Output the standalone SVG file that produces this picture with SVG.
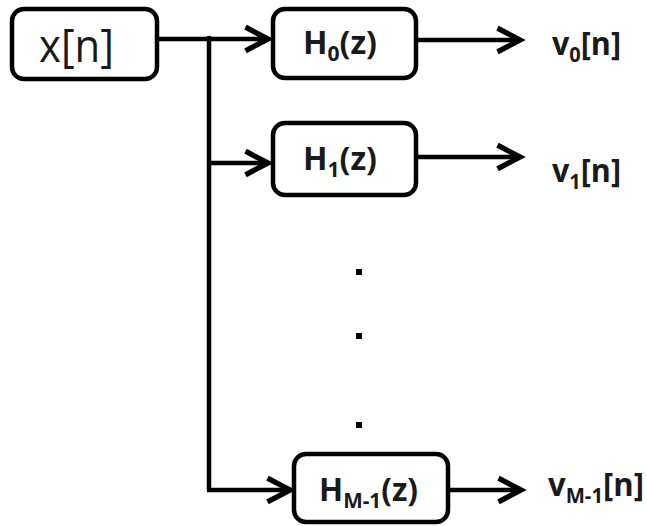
<svg xmlns="http://www.w3.org/2000/svg" width="647" height="526" viewBox="0 0 647 526">
<style>
.box{fill:#fff;stroke:#000;stroke-width:4.5}
.wire{fill:none;stroke:#000;stroke-width:4.5}
.lbl{font-family:"Open Sans","Liberation Sans",sans-serif;font-weight:700;font-size:32px;fill:#1a1a1a}
.sub{font-size:21px}
.in{font-family:"Open Sans","Liberation Sans",sans-serif;font-size:46px;fill:#1a1a1a}
</style>
<defs>
<marker id="arr" markerUnits="userSpaceOnUse" markerWidth="30" markerHeight="30" viewBox="-24 -14 28 28" refX="0" refY="0" orient="auto" overflow="visible">
<path d="M-21,-11 L0,0 L-21,11" fill="none" stroke="#000" stroke-width="5" stroke-linejoin="miter"/>
</marker>
</defs>
<rect width="647" height="526" fill="#fff"/>
<g id="connectors">
<path class="wire" d="M157,39 H268" marker-end="url(#arr)"/>
<path class="wire" d="M209,36 V490"/>
<path class="wire" d="M209,163 H268" marker-end="url(#arr)"/>
<path class="wire" d="M207,490 H290" marker-end="url(#arr)"/>
<path class="wire" d="M416,40 H520" marker-end="url(#arr)"/>
<path class="wire" d="M416,157 H520" marker-end="url(#arr)"/>
<path class="wire" d="M448,490 H521" marker-end="url(#arr)"/>
</g>
<g id="x_n">
<rect class="box" x="12" y="9" width="145" height="70" rx="12"/>
<text class="in" x="39" y="62" textLength="75" lengthAdjust="spacingAndGlyphs">x[n]</text>
</g>
<g id="H0">
<rect class="box" x="273" y="9" width="143" height="69" rx="12"/>
<text class="lbl" x="303" y="54" textLength="74" lengthAdjust="spacingAndGlyphs">H<tspan class="sub" dy="7">0</tspan><tspan dy="-7">(z)</tspan></text>
</g>
<g id="H1">
<rect class="box" x="273" y="123" width="143" height="72" rx="12"/>
<text class="lbl" x="303" y="170" textLength="74" lengthAdjust="spacingAndGlyphs">H<tspan class="sub" dy="7">1</tspan><tspan dy="-7">(z)</tspan></text>
</g>
<g id="HM1">
<rect class="box" x="294" y="454" width="154" height="68" rx="12"/>
<text class="lbl" x="319" y="501" textLength="99" lengthAdjust="spacingAndGlyphs">H<tspan class="sub" dy="7">M-1</tspan><tspan dy="-7">(z)</tspan></text>
</g>
<g id="v0">
<text class="lbl" x="552" y="55" textLength="69" lengthAdjust="spacingAndGlyphs">v<tspan class="sub" dy="7">0</tspan><tspan dy="-7">[n]</tspan></text>
</g>
<g id="v1">
<text class="lbl" x="552" y="182" textLength="69" lengthAdjust="spacingAndGlyphs">v<tspan class="sub" dy="7">1</tspan><tspan dy="-7">[n]</tspan></text>
</g>
<g id="vM1">
<text class="lbl" x="548" y="496" textLength="96" lengthAdjust="spacingAndGlyphs">v<tspan class="sub" dy="7">M-1</tspan><tspan dy="-7">[n]</tspan></text>
</g>
<g id="dots" fill="#000">
<rect x="356" y="269" width="6" height="6"/>
<rect x="356" y="333" width="6" height="6"/>
<rect x="356" y="422" width="6" height="6"/>
</g>
</svg>
